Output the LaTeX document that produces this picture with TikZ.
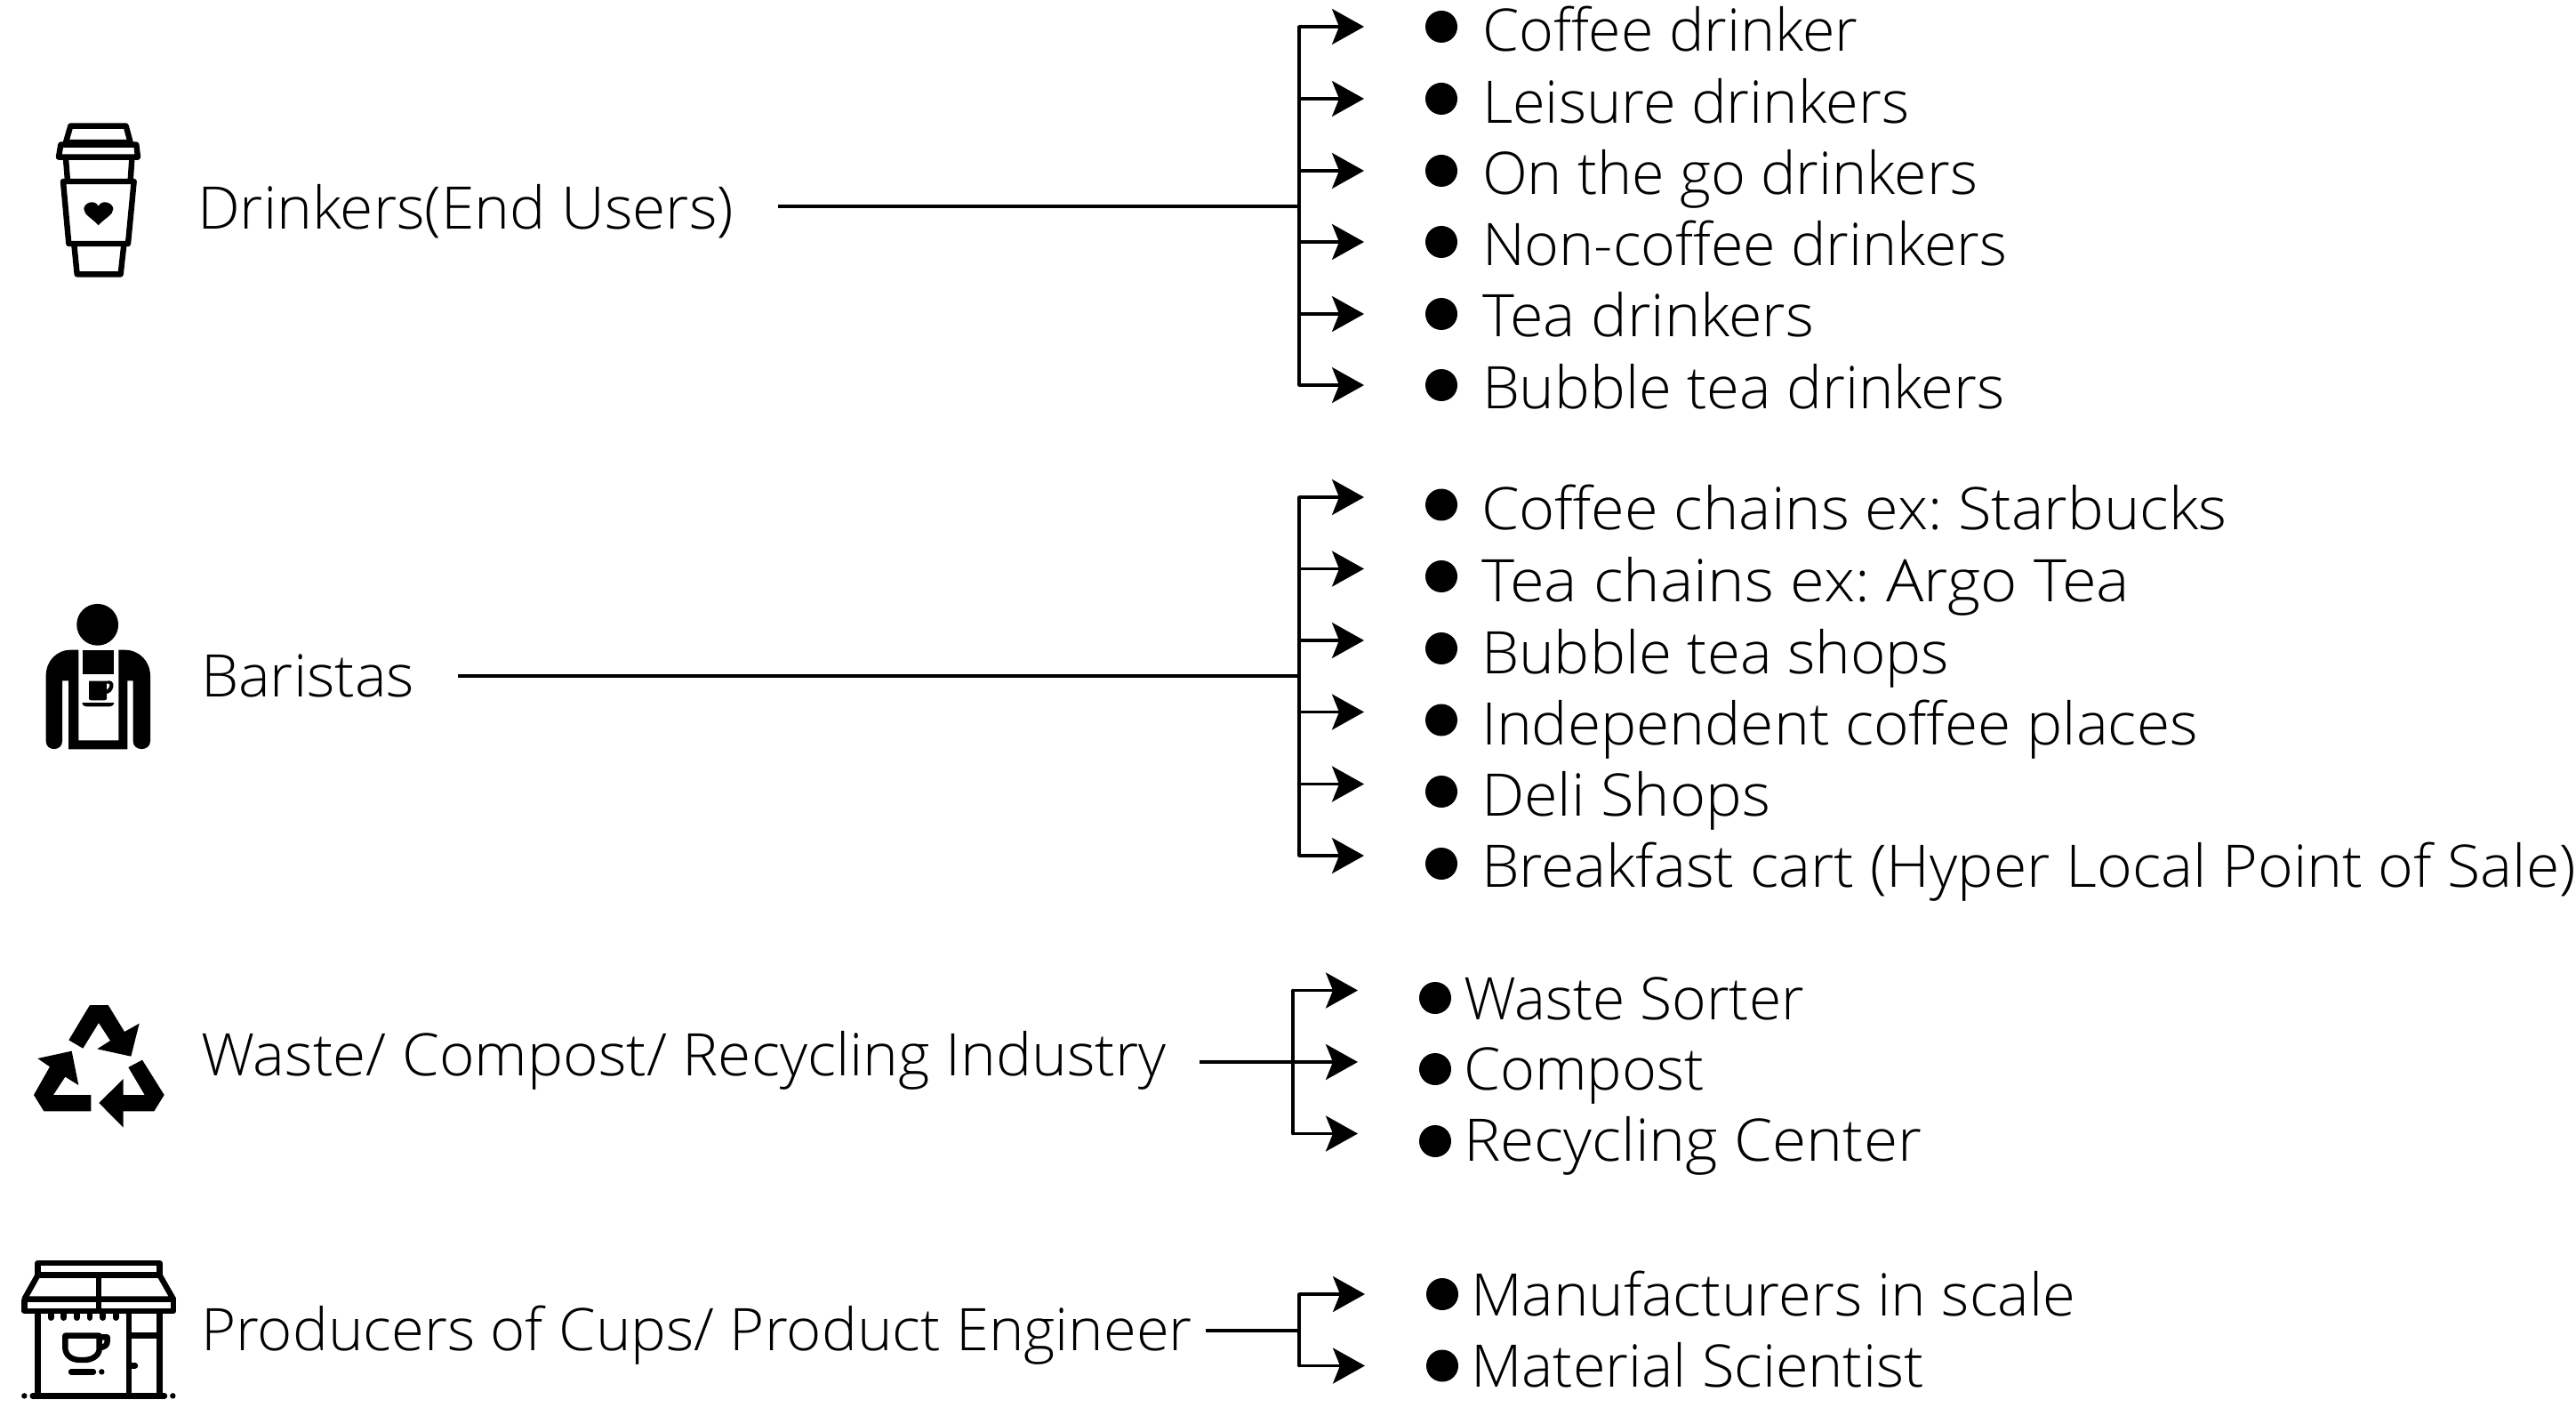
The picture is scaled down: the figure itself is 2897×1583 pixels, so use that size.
\documentclass[tikz,border=0pt]{standalone}
\usepackage{graphicx}
\usepackage{fontspec}
\setmainfont[FakeStretch=1.02]{Open Sans Light}
\frenchspacing
\usetikzlibrary{arrows.meta}
\tikzset{
  lbl/.style={anchor=base west,inner sep=0pt,outer sep=0pt,font=\fontsize{33}{38}\selectfont},
  bul/.style={circle,fill=black,draw=none,minimum size=18pt,inner sep=0pt},
  link/.style={line width=1.7pt,black},
  arr/.style={link,-{Stealth[length=18pt,width=20pt,inset=4pt]}},
  ico/.style={line width=3.2pt,line join=round,black},
}
\newcommand{\fitx}[2]{\scalebox{#1}[1]{#2}}
\begin{document}
\begin{tikzpicture}[x=0.5pt,y=-0.5pt]
\useasboundingbox (0,0) rectangle (2897,1583);
% group 1
\node[lbl] (L1) at (222,258) {\fitx{1.006}{Drinkers(End Users)}};
\coordinate (s1) at (875,232);
\coordinate (j1) at (1461,232);
\draw[link] (s1) -- (j1);
\foreach \n/\y/\b/\f/\t in {1/30/58/0.986/Coffee drinker,2/111/139/0.992/Leisure drinkers,3/192/219/0.987/On the go drinkers,4/272/299/0.985/Non-coffee drinkers,5/353/379/1.015/Tea drinkers,6/433/459/0.994/Bubble tea drinkers}{
  \coordinate (ta\n) at (1534,\y);
  \coordinate (ja\n) at (1461,\y);
  \draw[arr] (ja\n) -- (ta\n);
  \node[bul] (ba\n) at (1621,\y) {};
  \node[lbl] (xa\n) at (1667,\b) {\fitx{\f}{\t}};
}
\draw[link,line cap=round] (ja1) -- (ja6);
% group 2
\node[lbl] (L2) at (226,783) {Baristas};
\coordinate (s2) at (515,760);
\coordinate (j2) at (1461,760);
\draw[link] (s2) -- (j2);
\foreach \n/\y/\yy/\b/\f/\t in {1/559/567.5/596/1.018/Coffee chains ex: Starbucks,2/639.5/648/676/1.048/Tea chains ex: Argo Tea,3/720/729/757/1.0/Bubble tea shops,4/800.5/809.5/837/1.005/Independent coffee places,5/881.5/890/917/1.017/Deli Shops,6/962/971/997/1.009/Breakfast cart (Hyper Local Point of Sale)}{
  \coordinate (tb\n) at (1534,\y);
  \coordinate (jb\n) at (1461,\y);
  \draw[arr] (jb\n) -- (tb\n);
  \node[bul] (bb\n) at (1621,\yy) {};
  \node[lbl] (xb\n) at (1666,\b) {\fitx{\f}{\t}};
}
\draw[link,line cap=round] (jb1) -- (jb6);
% group 3
\node[lbl] (L3) at (226,1209) {\fitx{1.003}{Waste/ Compost/ Recycling Industry}};
\coordinate (s3) at (1349,1194);
\foreach \n/\y/\yy/\b/\f/\t in {1/1113.5/1122/1146/0.98/Waste Sorter,2/1194/1202/1225/0.987/Compost,3/1274.5/1283/1305/1.033/Recycling Center}{
  \coordinate (tc\n) at (1527,\y);
  \coordinate (jc\n) at (1454,\y);
  \node[bul] (bc\n) at (1614,\yy) {};
  \node[lbl] (xc\n) at (1646,\b) {\fitx{\f}{\t}};
}
\draw[arr] (s3) -- (tc2);
\draw[arr] (jc1) -- (tc1);
\draw[arr] (jc3) -- (tc3);
\draw[link,line cap=round] (jc1) -- (jc3);
% group 4
\node[lbl] (L4) at (226,1518) {\fitx{0.995}{Producers of Cups/ Product Engineer}};
\coordinate (s4) at (1356,1496);
\coordinate (j4) at (1461,1496);
\draw[link] (s4) -- (j4);
\foreach \n/\y/\yy/\b/\f/\t in {1/1455/1455/1479/0.995/Manufacturers in scale,2/1535.5/1535.5/1559/0.989/Material Scientist}{
  \coordinate (td\n) at (1535,\y);
  \coordinate (jd\n) at (1461,\y);
  \draw[arr] (jd\n) -- (td\n);
  \node[bul] (bd\n) at (1622,\yy) {};
  \node[lbl] (xd\n) at (1654,\b) {\fitx{\f}{\t}};
}
\draw[link,line cap=round] (jd1) -- (jd2);
% cup icon
\begin{scope}[shift={(0,100)},x=0.16667pt,y=-0.16667pt]
\draw[ico] (238,125)--(425,125)--(440,180)--(222,180)--cycle;
\draw[ico] (205,188)--(460,188)--(465,230)--(198,230)--cycle;
\draw[ico] (222,235)--(228,310) (445,235)--(440,310);
\draw[ico] (213,312)--(452,312)--(432,522)--(232,522)--cycle;
\draw[ico] (250,525)--(260,625)--(407,625)--(418,525);
\fill (332,460) .. controls (310,435) and (283,425) .. (283,405) .. controls (283,385) and (318,370) .. (332,395) .. controls (346,370) and (382,385) .. (382,405) .. controls (382,425) and (354,435) .. (332,460) -- cycle;
\end{scope}
% barista icon
\begin{scope}[shift={(0,650)},x=0.16667pt,y=-0.16667pt]
\fill (329,157) circle[radius=11.7pt];
\fill (265,242) -- (240,242) .. controls (190,242) and (155,280) .. (155,330) -- (155,550) .. controls (155,585) and (210,585) .. (210,550) -- (210,346) -- (231,346) -- (231,577) -- (430,577) -- (430,346) -- (449,346) -- (449,550) .. controls (449,585) and (507,585) .. (507,550) -- (507,330) .. controls (507,280) and (470,242) .. (420,242) -- (400,242) -- (400,547) -- (265,547) -- cycle;
\fill (279,242) rectangle (385,325);
\fill (300,347) -- (360,347) .. controls (375,342) and (385,352) .. (382,366) .. controls (380,380) and (370,388) .. (360,390) -- (360,405) .. controls (360,410) and (358,412) .. (352,412) -- (308,412) .. controls (302,412) and (300,410) .. (300,405) -- cycle;
\fill[white] (360,356) .. controls (372,352) and (374,366) .. (360,377) -- cycle;
\fill (277,420) -- (385,420) .. controls (383,430) and (375,433) .. (370,433) -- (292,433) .. controls (285,433) and (279,430) .. (277,420) -- cycle;
\end{scope}
% recycle icon
\begin{scope}[shift={(0,1100)},x=0.16667pt,y=-0.16667pt]
\fill (303,90)--(365,90)--(420,180)--(470,152)--(442,263)--(328,238)--(372,210)--(333,150)--(280,236)--(232,208)--cycle;
\fill (127,270)--(242,245)--(265,360)--(220,332)--(180,393)--(307,393)--(307,448)--(148,448)--(114,393)--(168,298)--cycle;
\fill (480,275)--(554,393)--(520,448)--(416,448)--(416,503)--(334,420)--(416,339)--(416,393)--(488,393)--(433,300)--cycle;
% shop icon
\draw[ico] (128,960)--(538,960)--(538,1000)--(128,1000)--cycle;
\draw[ico] (128,1000)--(82,1082)--(585,1082)--(538,1000);
\draw[ico] (82,1082)--(82,1122)--(585,1122)--(585,1082);
\draw[ico] (333,1000)--(333,1122);
\draw[ico] (128,1122)--(128,1408) (538,1122)--(538,1408) (435,1122)--(435,1408) (435,1204)--(538,1204);
\draw[ico,line cap=round] (435,1306)--(456,1306);
\draw[ico,line cap=round] (110,1408)--(555,1408);
\fill (82,1408) circle[radius=1.6pt] (583,1408) circle[radius=1.6pt];
\foreach \k in {172,215,259,303,347,391}{\draw[ico,line cap=round] (\k,1130)--(\k,1145);}
\draw[ico] (220,1205)--(335,1205)--(335,1250) .. controls (335,1272) and (310,1287) .. (285,1287) -- (270,1287) .. controls (240,1287) and (220,1270) .. (220,1245) -- cycle;
\draw[ico] (335,1210)--(362,1210)--(362,1225) .. controls (362,1238) and (350,1245) .. (335,1245);
\draw[ico,line cap=round] (240,1327)--(315,1327);
\fill (343,1327) circle[radius=1.6pt];
\end{scope}
\end{tikzpicture}
\end{document}
